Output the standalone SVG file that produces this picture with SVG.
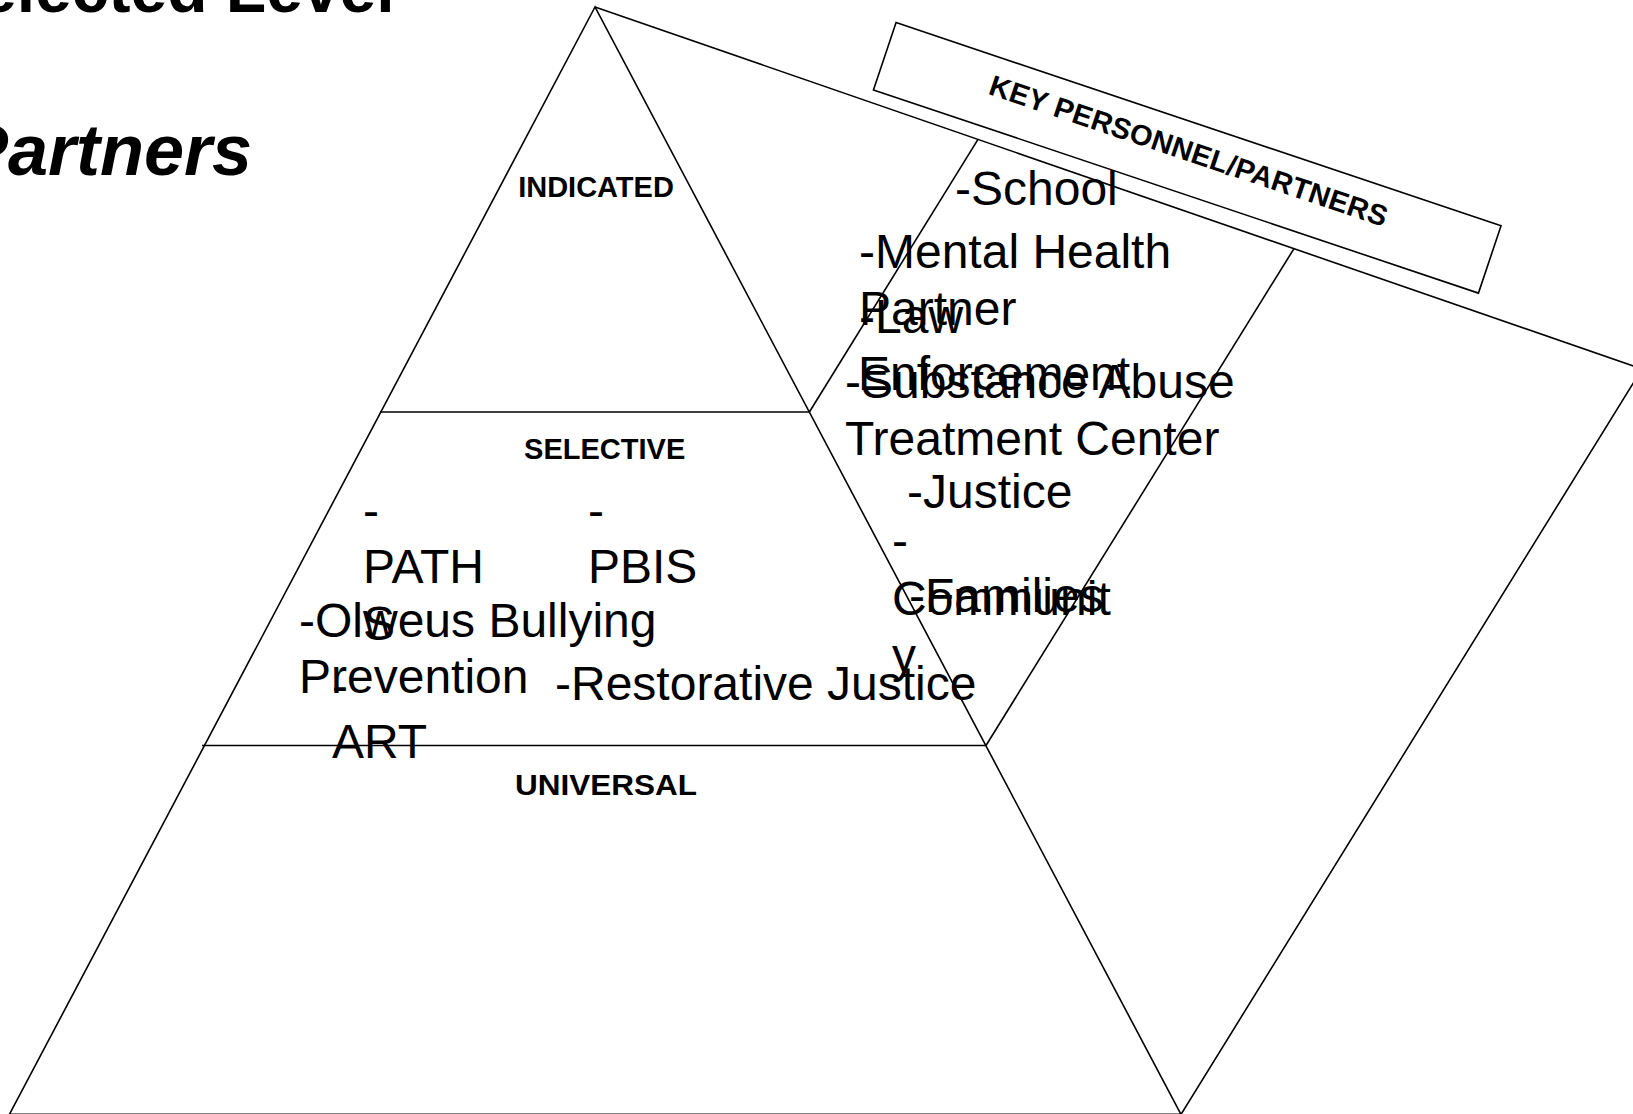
<svg xmlns="http://www.w3.org/2000/svg" width="1633" height="1114" viewBox="0 0 1633 1114">
<style>
.ln{fill:none;stroke:#000;stroke-width:1.6;stroke-linejoin:miter}
.t{font-family:"Liberation Sans",Arial,sans-serif;font-size:48px;fill:#000}
.lbl{font-family:"Liberation Sans",Arial,sans-serif;font-size:29px;font-weight:bold;fill:#000;text-anchor:middle}
.ttl{font-family:"Liberation Sans",Arial,sans-serif;font-weight:bold;fill:#000}
</style>
<rect x="0" y="0" width="1633" height="1114" fill="#fff"/>

<g id="title">
  <text class="ttl" x="-64" y="12" font-size="66">Selected Level</text>
  <text class="ttl" x="-40" y="175" font-size="72" font-style="italic">Partners</text>
</g>

<g id="connectors">
  <polygon class="ln" points="595,7 9.4,1114.4 1181,1114.4"/>
  <polyline class="ln" points="595,7 1642,369 1181,1114.4"/>
  <line class="ln" x1="380" y1="412" x2="809.4" y2="412"/>
  <line class="ln" x1="202" y1="745.5" x2="986" y2="745.5"/>
  <line class="ln" x1="809.4" y1="412" x2="978" y2="139.4"/>
  <line class="ln" x1="986" y1="745.5" x2="1294" y2="248.6"/>
</g>

<g id="indicated">
  <text class="lbl" x="596" y="196.7">INDICATED</text>
</g>

<g id="selective">
  <text class="lbl" x="604.7" y="459.3">SELECTIVE</text>
  <text class="t" x="363" y="526.6">-</text>
  <text class="t" x="363" y="583.3">PATH</text>
  <text class="t" x="363" y="640">S</text>
  <text class="t" x="588" y="526.6">-</text>
  <text class="t" x="588" y="583.3">PBIS</text>
  <text class="t" x="299" y="636.7">-Olweus Bullying</text>
  <text class="t" x="299" y="693.3">Prevention</text>
  <text class="t" x="332" y="701.5">-</text>
  <text class="t" x="332" y="758.2">ART</text>
  <text class="t" x="555" y="700">-Restorative Justice</text>
</g>

<g id="universal">
  <text class="lbl" x="606" y="795" font-size="31" textLength="182" lengthAdjust="spacingAndGlyphs">UNIVERSAL</text>
</g>

<g id="key-personnel-header" transform="translate(1187.25,157.85) rotate(18.57)">
  <rect class="ln" x="-319.1" y="-35.5" width="638.2" height="71"/>
  <text class="lbl" x="-1" y="3" font-size="28" textLength="418" lengthAdjust="spacing">KEY PERSONNEL/PARTNERS</text>
</g>

<g id="partners-list">
  <text class="t" x="955" y="204.5">-School</text>
  <text class="t" x="859" y="268.3">-Mental Health</text>
  <text class="t" x="859" y="325">Partner</text>
  <text class="t" x="859" y="333.3">-Law</text>
  <text class="t" x="858" y="390">Enforcement</text>
  <text class="t" x="845" y="397.5">-Substance Abuse</text>
  <text class="t" x="845" y="455">Treatment Center</text>
  <text class="t" x="907" y="508.3">-Justice</text>
  <text class="t" x="892" y="557">-</text>
  <text class="t" x="892" y="615">Communit</text>
  <text class="t" x="892" y="672">y</text>
  <text class="t" x="909" y="612">-Families</text>
</g>
</svg>
